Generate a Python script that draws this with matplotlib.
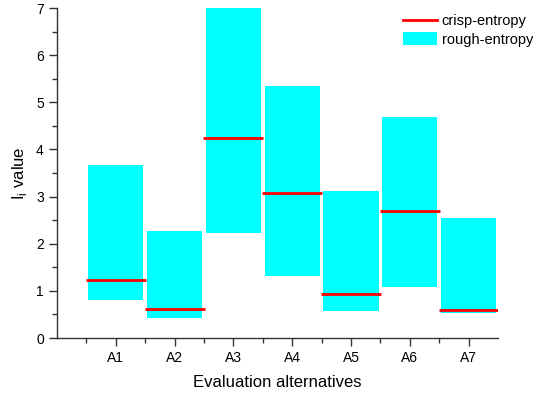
import matplotlib
matplotlib.use("Agg")
import matplotlib.pyplot as plt
from matplotlib.ticker import MultipleLocator, FixedLocator
from matplotlib.patches import Patch
from matplotlib.lines import Line2D

plt.rcParams['font.family'] = ['Liberation Sans', 'DejaVu Sans']

categories = ["A1", "A2", "A3", "A4", "A5", "A6", "A7"]
rough_low = [0.81, 0.42, 2.23, 1.31, 0.57, 1.09, 0.52]
rough_high = [3.68, 2.27, 7.00, 5.35, 3.12, 4.69, 2.55]
crisp = [1.22, 0.62, 4.25, 3.08, 0.93, 2.70, 0.60]

fig = plt.figure(figsize=(5.48, 3.94), dpi=100)
ax = fig.add_axes([57/548, 1 - 338/394, (498-57)/548, (338-8)/394])

x = list(range(1, len(categories) + 1))
heights = [h - l for h, l in zip(rough_high, rough_low)]
ax.bar(x, heights, bottom=rough_low, width=0.94, color='#00FFFF', edgecolor='none', zorder=1)
ax.hlines(crisp, [xi - 0.51 for xi in x], [xi + 0.51 for xi in x], colors='#FF0000', linewidth=2, zorder=2)

ax.set_xlim(0, 7.5)
ax.set_ylim(0, 7)
ax.set_xticks(x)
ax.set_xticklabels(categories)
ax.xaxis.set_minor_locator(FixedLocator([0.5 + i for i in range(7)]))
ax.yaxis.set_major_locator(MultipleLocator(1))
ax.yaxis.set_minor_locator(MultipleLocator(0.5))

for s in ['top', 'right']:
    ax.spines[s].set_visible(False)
for s in ['left', 'bottom']:
    ax.spines[s].set_linewidth(1.0)
    ax.spines[s].set_color('#333333')

ax.tick_params(axis='both', which='major', direction='out', length=6, width=1, labelsize=10, color='#333333')
ax.tick_params(axis='both', which='minor', direction='out', length=3.5, width=1, color='#333333')

ax.set_xlabel("Evaluation alternatives", fontsize=12, labelpad=7)
ax.set_ylabel(r"I$_\mathregular{i}$ value", fontsize=12, labelpad=5)

handles = [Line2D([0], [0], color='#FF0000', lw=2),
           Patch(facecolor='#00FFFF', edgecolor='none')]
fig.legend(handles, ["crisp-entropy", "rough-entropy"], loc='upper left', frameon=False,
           fontsize=10.5, handlelength=2.35, handleheight=0.9, handletextpad=0.3,
           borderpad=0, borderaxespad=0, labelspacing=0.3,
           bbox_to_anchor=(403/548, 1 - 14/394), bbox_transform=fig.transFigure)

fig.savefig("out.png", dpi=100)
